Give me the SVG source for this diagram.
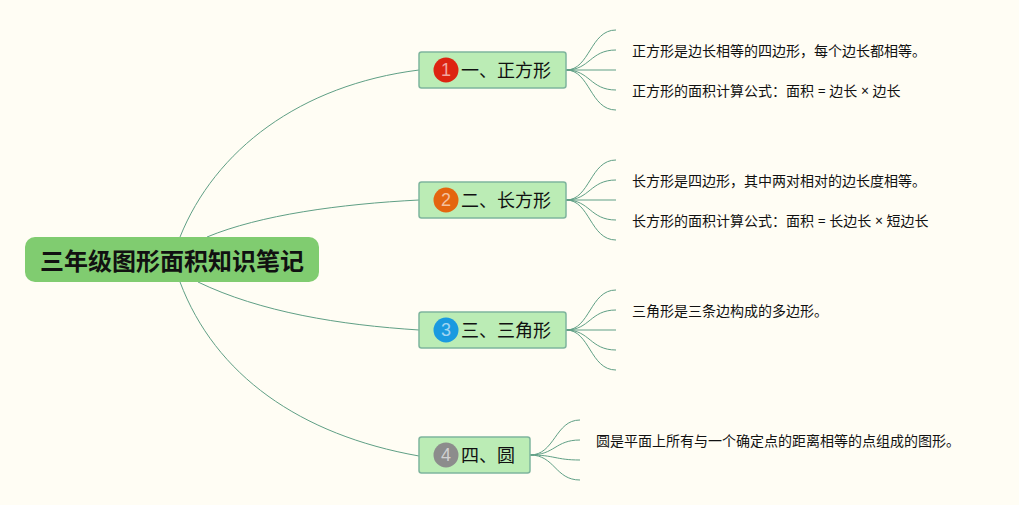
<svg xmlns="http://www.w3.org/2000/svg" width="1019" height="505" viewBox="0 0 1019 505">
<style>
text{font-family:"Noto Sans CJK SC","Noto Sans",sans-serif;fill:#111}
.c{fill:none;stroke:#5f9f85;stroke-width:1}
.b{fill:#bbecb5;stroke:#7fb59d;stroke-width:1.5}
.t{font-size:18px}
.l{font-size:14px;font-family:"Noto Sans","Noto Sans CJK SC",sans-serif}
.n{font-family:"Liberation Sans",sans-serif;font-size:18px;fill:#fff;fill-opacity:.6;text-anchor:middle}
</style>
<rect width="1019" height="505" fill="#fffdf4"/>
<g id="connectors">
<path class="c" d="M180 237C215 150 300 85 419 70"/>
<path class="c" d="M207 237C260 215 340 204 419 200"/>
<path class="c" d="M198 282C260 312 340 325 419 330"/>
<path class="c" d="M180 282C215 375 300 435 419 456"/>
<path class="c" d="M566 70C590 70 590 30 616 30M566 70C590 70 590 50 616 50M566 70H616M566 70C590 70 590 90 616 90M566 70C590 70 590 110 616 110"/>
<path class="c" d="M566 200C590 200 590 160 616 160M566 200C590 200 590 180 616 180M566 200H616M566 200C590 200 590 220 616 220M566 200C590 200 590 240 616 240"/>
<path class="c" d="M566 330C590 330 590 290 616 290M566 330C590 330 590 310 616 310M566 330H616M566 330C590 330 590 350 616 350M566 330C590 330 590 370 616 370"/>
<path class="c" d="M530 455C555 455 555 420 580 420M530 455C555 455 555 440 580 440M530 455C555 455 555 460 580 460M530 455C555 455 555 480 580 480"/>
</g>
<g id="root">
<rect x="25" y="237" width="294" height="45" rx="10" fill="#80cc70"/>
<text x="172" y="270" font-size="24" font-weight="700" text-anchor="middle">三年级图形面积知识笔记</text>
</g>
<g id="node1">
<rect class="b" x="419" y="52" width="147" height="36" rx="2.5"/>
<circle cx="446" cy="70" r="12.5" fill="#dd2411"/>
<text class="n" x="446" y="76">1</text>
<text class="t" x="461" y="77">一、正方形</text>
</g>
<g id="node2">
<rect class="b" x="419" y="182" width="147" height="36" rx="2.5"/>
<circle cx="446" cy="200" r="12.5" fill="#e4650f"/>
<text class="n" x="446" y="206">2</text>
<text class="t" x="461" y="207">二、长方形</text>
</g>
<g id="node3">
<rect class="b" x="419" y="312" width="147" height="36" rx="2.5"/>
<circle cx="446" cy="330" r="12.5" fill="#1a9ae0"/>
<text class="n" x="446" y="336">3</text>
<text class="t" x="461" y="337">三、三角形</text>
</g>
<g id="node4">
<rect class="b" x="419" y="437" width="111" height="36" rx="2.5"/>
<circle cx="446" cy="455" r="12.5" fill="#8c8c8c"/>
<text class="n" x="446" y="461">4</text>
<text class="t" x="461" y="462">四、圆</text>
</g>
<g id="notes">
<text class="l" x="632" y="56">正方形是边长相等的四边形，每个边长都相等。</text>
<text class="l" x="632" y="96">正方形的面积计算公式：面积 = 边长 × 边长</text>
<text class="l" x="632" y="186">长方形是四边形，其中两对相对的边长度相等。</text>
<text class="l" x="632" y="226">长方形的面积计算公式：面积 = 长边长 × 短边长</text>
<text class="l" x="632" y="316">三角形是三条边构成的多边形。</text>
<text class="l" x="596" y="446">圆是平面上所有与一个确定点的距离相等的点组成的图形。</text>
</g>
</svg>
